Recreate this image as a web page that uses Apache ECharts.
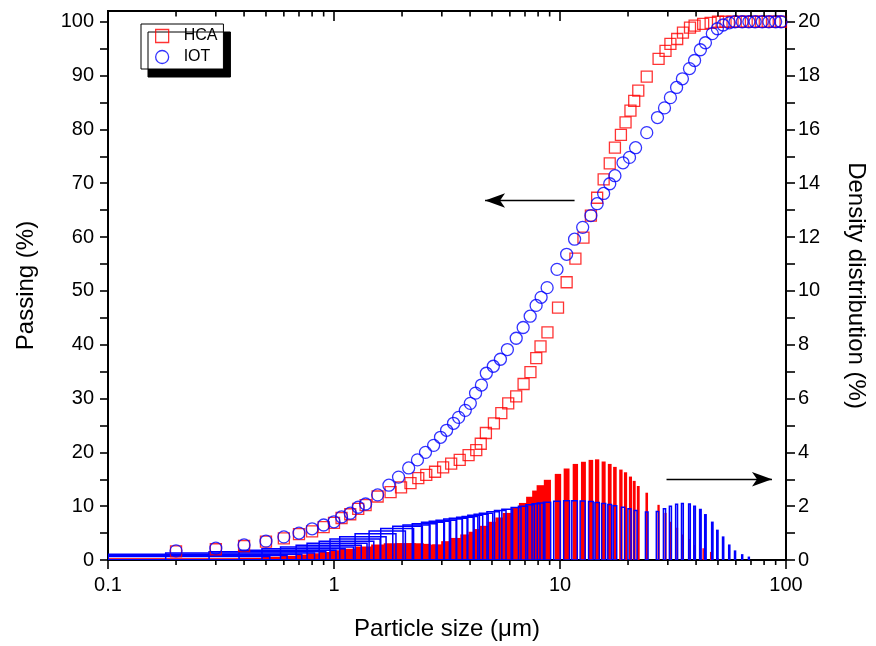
<!DOCTYPE html>
<html>
<head>
<meta charset="utf-8">
<script src="https://cdn.jsdelivr.net/npm/echarts@6/dist/echarts.min.js"></script>
<style>
  html, body { margin: 0; padding: 0; background: #fff; }
  #chart { width: 876px; height: 646px; }
</style>
</head>
<body>
<div id="chart"></div>
<script>
// Particle size distributions: cumulative passing (left axis) and density (right axis)

const hcaSize = [0.2, 0.3, 0.4, 0.5, 0.6, 0.7, 0.8, 0.9, 1.0, 1.08, 1.18, 1.28, 1.38, 1.56, 1.78, 1.98,
  2.18, 2.36, 2.56, 2.8, 3.04, 3.3, 3.6, 3.94, 4.26, 4.46, 4.7, 5.1, 5.5, 5.9, 6.4, 6.9, 7.4, 7.85,
  8.2, 8.8, 9.8, 10.7, 11.7, 12.7, 13.7, 14.6, 15.6, 16.6, 17.5, 18.6, 19.5, 20.5, 21.3, 22.2, 24.2,
  27.3, 29.3, 30.8, 33.0, 35.0, 37.6, 39.4, 43.0, 46.4, 50.0, 54, 58, 62.5, 67, 72, 77.5, 83, 89, 95];
const hcaPassing = [1.6, 2.0, 2.6, 3.4, 4.0, 4.8, 5.3, 6.1, 6.9, 7.8, 8.5, 9.5, 10.2, 11.8, 12.6, 13.5,
  14.3, 15.2, 15.8, 16.4, 17.2, 17.9, 18.6, 19.5, 20.4, 21.6, 23.6, 25.4, 27.3, 29.1, 30.4, 32.7, 34.9, 37.5,
  39.7, 42.3, 46.9, 51.6, 56.0, 59.9, 64.0, 67.3, 70.7, 73.7, 76.6, 79.0, 81.3, 83.5, 85.3, 87.2, 89.8,
  93.1, 94.6, 95.9, 96.8, 98.0, 98.9, 99.3, 99.6, 99.8, 100, 100, 100, 100, 100, 100, 100, 100, 100, 100];
const hcaDensity = [0.06, 0.06, 0.05, 0.04, 0.04, 0.08, 0.12, 0.16, 0.2, 0.25, 0.3, 0.36, 0.42, 0.5, 0.58, 0.62,
  0.62, 0.6, 0.57, 0.56, 0.58, 0.7, 0.82, 0.95, 1.05, 1.15, 1.27, 1.42, 1.58, 1.75, 1.95, 2.12, 2.35, 2.58,
  2.78, 2.98, 3.2, 3.4, 3.57, 3.65, 3.72, 3.74, 3.66, 3.57, 3.46, 3.36, 3.26, 3.1, 2.94, 2.75, 2.5,
  2.05, 1.75, 1.42, 1.2, 0.95, 0.78, 0.56, 0.44, 0.3, 0.07, 0, 0, 0, 0, 0, 0, 0, 0, 0];

const iotSize = [0.2, 0.3, 0.4, 0.5, 0.6, 0.7, 0.8, 0.9, 1.0, 1.08, 1.18, 1.28, 1.38, 1.56, 1.75, 1.93,
  2.14, 2.34, 2.54, 2.76, 2.96, 3.15, 3.38, 3.56, 3.81, 4.01, 4.23, 4.49, 4.72, 5.07, 5.45, 5.85, 6.40,
  6.87, 7.38, 7.84, 8.25, 8.77, 9.70, 10.7, 11.6, 12.6, 13.7, 14.6, 15.6, 16.6, 17.5, 19.0, 20.3, 21.6,
  24.2, 27.0, 29.0, 30.8, 32.8, 34.8, 37.4, 39.4, 41.8, 44.0, 47.2, 49.7, 52.7, 56.1, 59.5, 64, 68.5,
  73, 78.5, 84, 90, 95];
const iotPassing = [1.7, 2.2, 2.8, 3.5, 4.3, 5.0, 5.8, 6.5, 7.1, 8.0, 8.7, 9.8, 10.4, 12.1, 13.9, 15.4,
  17.1, 18.6, 20.0, 21.3, 22.8, 24.1, 25.4, 26.5, 27.8, 29.1, 31.0, 32.5, 34.7, 36.0, 37.3, 39.1, 41.2,
  43.2, 45.3, 47.3, 48.8, 50.6, 54.0, 56.8, 59.6, 61.8, 64.0, 66.2, 68.1, 69.9, 71.4, 73.8, 74.8, 76.6,
  79.4, 82.2, 84.0, 85.9, 87.8, 89.4, 91.3, 92.8, 94.8, 96.1, 97.8, 98.7, 99.4, 99.8, 100, 100, 100,
  100, 100, 100, 100, 100];
const iotDensity = [0.13, 0.17, 0.21, 0.26, 0.31, 0.36, 0.42, 0.48, 0.55, 0.62, 0.7, 0.78, 0.86, 0.98, 1.08, 1.17,
  1.25, 1.3, 1.35, 1.4, 1.44, 1.48, 1.52, 1.55, 1.59, 1.62, 1.66, 1.7, 1.74, 1.79, 1.84, 1.89, 1.95,
  2.0, 2.05, 2.09, 2.12, 2.15, 2.18, 2.2, 2.2, 2.19, 2.17, 2.14, 2.1, 2.06, 2.02, 1.96, 1.9, 1.84,
  1.78, 1.8, 1.9, 2.0, 2.07, 2.1, 2.08, 2.0, 1.88, 1.68, 1.4, 1.1, 0.85, 0.55, 0.33, 0.19, 0.1,
  0, 0, 0, 0, 0];

// Axis ticks and labels
const sizeTicks = [0.1, 1, 10, 100];
const sizeMinorTicks = [0.2, 0.3, 0.4, 0.5, 0.6, 0.7, 0.8, 0.9, 2, 3, 4, 5, 6, 7, 8, 9,
  20, 30, 40, 50, 60, 70, 80, 90];
const passLabels = [0, 10, 20, 30, 40, 50, 60, 70, 80, 90, 100];
const passTickMarks = [0, 5, 10, 15, 20, 25, 30, 35, 40, 45, 50, 55, 60, 65, 70, 75, 80, 85, 90, 95, 100];
const densityLabels = [0, 2, 4, 6, 8, 10, 12, 14, 16, 18, 20];
const densityTickMarks = [0, 1, 2, 3, 4, 5, 6, 7, 8, 9, 10, 11, 12, 13, 14, 15, 16, 17, 18, 19, 20];

// Column width in micrometres (columns are drawn with a fixed linear width on the log axis)
const COLUMN_WIDTH = 0.64;
const X_MIN = 0.1, X_MAX = 100;
const FONT = 'Liberation Sans, Arial, sans-serif';

const zip = (a, b) => a.map((v, i) => [v, b[i]]);

function columnRenderer(filled, color) {
  return function (params, api) {
    const x = api.value(0), h = api.value(1);
    if (!(h > 0)) return null;
    const lo = Math.max(x - COLUMN_WIDTH / 2, X_MIN);
    const hi = Math.min(x + COLUMN_WIDTH / 2, X_MAX);
    const p0 = api.coord([lo, 0]);
    const p1 = api.coord([hi, h]);
    return {
      type: 'rect',
      shape: { x: p0[0], y: p1[1], width: p1[0] - p0[0], height: p0[1] - p1[1] },
      style: filled ? { fill: color, stroke: null } : { fill: null, stroke: color, lineWidth: 1.5 }
    };
  };
}

// Log-axis tick marks: outward on the bottom edge, inward on the top edge
function tickSeries(values, bottomLen, topLen) {
  return {
    type: 'custom', xAxisIndex: 0, yAxisIndex: 0, silent: true, z: 6,
    data: values.map(v => [v, 0]), encode: { x: 0, y: 1 },
    renderItem: function (params, api) {
      const cs = params.coordSys;
      const px = api.coord([api.value(0), 0])[0];
      const bottom = cs.y + cs.height;
      const st = { stroke: '#000', lineWidth: 1.6 };
      const children = [{ type: 'line', shape: { x1: px, y1: cs.y, x2: px, y2: cs.y + topLen }, style: st }];
      if (bottomLen > 0) {
        children.push({ type: 'line', shape: { x1: px, y1: bottom, x2: px, y2: bottom + bottomLen }, style: st });
      }
      return { type: 'group', children: children };
    }
  };
}

const chart = echarts.init(document.getElementById('chart'), null, { renderer: 'canvas' });

const axisLineStyle = { color: '#000', width: 2 };
const labelStyle = { color: '#000', fontFamily: FONT, fontSize: 20 };
const nameStyle = { color: '#000', fontFamily: FONT, fontSize: 24 };

chart.setOption({
  backgroundColor: '#fff',
  animation: false,
  grid: {
    left: 108, right: 86, top: 11, bottom: 86, containLabel: false,
    show: true, borderColor: '#000', borderWidth: 2, backgroundColor: 'transparent'
  },
  legend: {
    data: ['HCA', 'IOT'],
    orient: 'vertical',
    left: 141, top: 24,
    itemWidth: 13, itemHeight: 13, itemGap: 5,
    padding: [4, 6, 4, 14],
    backgroundColor: '#fff',
    borderColor: '#000', borderWidth: 1,
    shadowColor: '#000', shadowBlur: 0, shadowOffsetX: 7, shadowOffsetY: 8,
    selectedMode: false,
    textStyle: { color: '#000', fontFamily: FONT, fontSize: 16, padding: [0, 0, 0, 10] },
    itemStyle: { borderWidth: 1.3 }
  },
  xAxis: [
    {
      type: 'log', logBase: 10, min: X_MIN, max: X_MAX, position: 'bottom',
      name: 'Particle size (\u03bcm)', nameLocation: 'middle', nameGap: 57, nameTextStyle: nameStyle,
      axisLine: { lineStyle: axisLineStyle },
      axisTick: { length: 9, lineStyle: { color: '#000', width: 1.6 } },
      axisLabel: Object.assign({ margin: 15, formatter: v => {
        const t = sizeTicks.find(s => Math.abs(Math.log10(s) - Math.log10(v)) < 1e-6);
        return t === undefined ? '' : String(t);
      } }, labelStyle),
      splitLine: { show: false }
    }
  ],
  yAxis: [
    {
      type: 'value', min: 0, max: 102, position: 'left',
      name: 'Passing (%)', nameLocation: 'middle', nameGap: 70, nameTextStyle: nameStyle,
      axisLine: { show: true, lineStyle: axisLineStyle },
      axisTick: { show: true, length: 8, customValues: passTickMarks, lineStyle: { color: '#000', width: 1.6 } },
      axisLabel: Object.assign({ margin: 14, customValues: passLabels }, labelStyle),
      splitLine: { show: false }
    },
    {
      type: 'value', min: 0, max: 20.4, position: 'right',
      name: 'Density distribution (%)', nameLocation: 'middle', nameGap: 58, nameRotate: -90,
      nameTextStyle: nameStyle,
      axisLine: { show: true, lineStyle: axisLineStyle },
      axisTick: { show: true, length: 9, customValues: densityTickMarks, lineStyle: { color: '#000', width: 1.6 } },
      axisLabel: Object.assign({ margin: 12, customValues: densityLabels }, labelStyle),
      splitLine: { show: false }
    }
  ],
  series: [
    {
      name: 'HCA density', type: 'custom', xAxisIndex: 0, yAxisIndex: 1,
      renderItem: columnRenderer(true, '#ff0000'),
      data: zip(hcaSize, hcaDensity), encode: { x: 0, y: 1 }, z: 2, silent: true, clip: true
    },
    {
      name: 'IOT density', type: 'custom', xAxisIndex: 0, yAxisIndex: 1,
      renderItem: columnRenderer(false, '#0000ff'),
      data: zip(iotSize, iotDensity), encode: { x: 0, y: 1 }, z: 3, silent: true, clip: true
    },
    tickSeries(sizeMinorTicks, 5, 5.5),
    tickSeries(sizeTicks, 0, 10),
    {
      name: 'HCA', type: 'scatter', xAxisIndex: 0, yAxisIndex: 0,
      symbol: 'rect', symbolSize: 11, z: 4,
      itemStyle: { color: 'rgba(255,0,0,0)', borderColor: '#ff0000', borderWidth: 1.3 },
      data: zip(hcaSize, hcaPassing)
    },
    {
      name: 'IOT', type: 'scatter', xAxisIndex: 0, yAxisIndex: 0,
      symbol: 'circle', symbolSize: 12, z: 5,
      itemStyle: { color: 'rgba(0,0,255,0)', borderColor: '#0000ff', borderWidth: 1.3 },
      data: zip(iotSize, iotPassing),
      markLine: {
        silent: true, animation: false,
        symbol: ['none', 'arrow'], symbolSize: [11, 20],
        label: { show: false },
        lineStyle: { color: '#000', width: 1.4, type: 'solid' },
        data: [
          [{ coord: [11.6, 66.8] }, { coord: [4.66, 66.8] }],
          [{ coord: [29.6, 15.0] }, { coord: [86.7, 15.0] }]
        ]
      }
    }
  ]
});
</script>
</body>
</html>
